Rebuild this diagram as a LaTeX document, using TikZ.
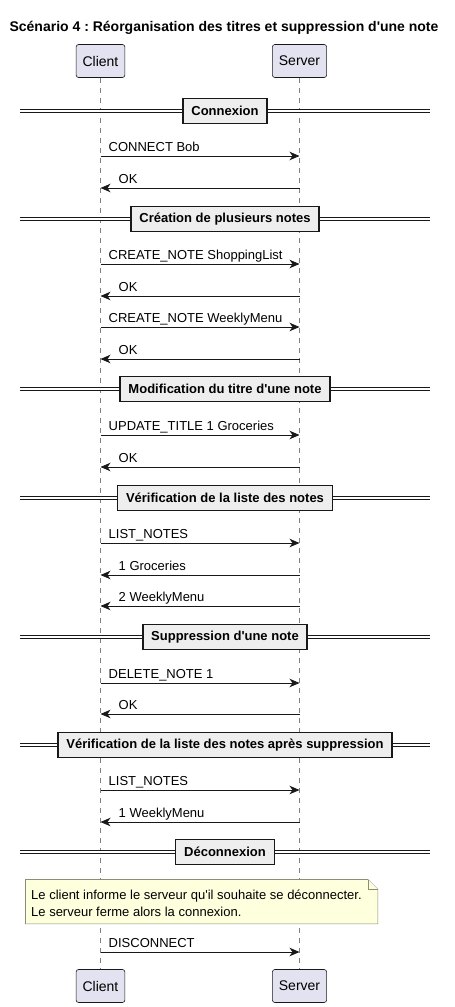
\documentclass[tikz,border=0pt]{standalone}
\usepackage{fontspec}
\setmainfont{Liberation Sans}
\usetikzlibrary{arrows.meta,calc}
\definecolor{ink}{HTML}{181818}
\definecolor{partfill}{HTML}{E2E2F0}
\definecolor{divfill}{HTML}{EEEEEE}
\definecolor{notefill}{HTML}{FEFFDD}
\definecolor{lifegray}{HTML}{808080}
\definecolor{noteline}{HTML}{8C8C78}
\newcommand{\apos}{\textquotesingle}
\frenchspacing
\begin{document}
\begin{tikzpicture}[x=1pt,y=-1pt,
  part/.style={draw=ink, fill=partfill, rounded corners=2.5pt, line width=0.6pt,
    minimum height=33pt, inner xsep=6.5pt, font=\fontsize{14}{16}\selectfont},
  life/.style={draw=lifegray, line width=0.5pt, dash pattern=on 5pt off 5pt},
  msg/.style={draw=ink, line width=0.8pt, -{Stealth[length=10pt,width=8.5pt,inset=3pt]}},
  lbl/.style={anchor=base west, inner sep=0pt, font=\fontsize{13}{15}\selectfont},
  divline/.style={draw=ink, double=white, double distance=2pt, line width=0.8pt},
  divbox/.style={draw=ink, fill=divfill, line width=1.6pt, minimum height=25pt,
    inner xsep=8.5pt, font=\bfseries\fontsize{13}{15}\selectfont},
  notebox/.style={fill=notefill, draw=noteline, line width=0.6pt},
]
\useasboundingbox (0,0) rectangle (455,1007);

\node[anchor=base, inner sep=0pt, font=\bfseries\fontsize{14}{16}\selectfont] (title) at (224,31)
  {Scénario 4 : Réorganisation des titres et suppression d\apos une note};

\node[part] (ct) at (100.5,61) {Client};
\node[part] (st) at (299.5,61) {Server};
\node[part] (cb) at (100.5,986) {Client};
\node[part] (sb) at (299.5,986) {Server};

\draw[life] (ct.south) -- (cb.north);
\draw[life] (st.south) -- (sb.north);

\foreach \y/\n/\t in {111/d1/Connexion,
  219/d2/Création de plusieurs notes,
  389/d3/Modification du titre d\apos une note,
  498/d4/Vérification de la liste des notes,
  637/d5/Suppression d\apos une note,
  745/d6/Vérification de la liste des notes après suppression,
  852/d7/Déconnexion}{
  \draw[divline] (20,\y) -- (430,\y);
  \node[divbox] (\n) at (225,\y) {\t};
}

% client -> server
\foreach \y/\n/\t in {156/m1/CONNECT Bob,
  264/m3/CREATE\_NOTE ShoppingList,
  327/m5/CREATE\_NOTE WeeklyMenu,
  435/m7/UPDATE\_TITLE 1 Groceries,
  543/m9/LIST\_NOTES,
  683/m12/DELETE\_NOTE 1,
  790/m14/LIST\_NOTES,
  952/m16/DISCONNECT}{
  \draw[msg] (ct.center |- 0,\y) -- (st.center |- 0,\y);
  \node[lbl] (\n) at (108.5,\y-4.5) {\t};
}

% server -> client
\foreach \y/\n/\t in {188/m2/OK,
  296/m4/OK,
  359/m6/OK,
  467/m8/OK,
  575/m10/1 Groceries,
  606/m11/2 WeeklyMenu,
  714/m13/OK,
  822/m15/1 WeeklyMenu}{
  \draw[msg] (st.center |- 0,\y) -- (ct.center |- 0,\y);
  \node[lbl] (\n) at (118.5,\y-4.5) {\t};
}

% note
\node[anchor=north west, inner sep=0pt, minimum width=352pt, minimum height=44pt] (note) at (25.5,879.5) {};
\fill[notebox] (note.north west) -- ($(note.north east)+(-10,0)$) -- ($(note.north east)+(0,10)$)
  -- (note.south east) -- (note.south west) -- cycle;
\draw[notebox] ($(note.north east)+(-10,0)$) -- ($(note.north east)+(-10,10)$) -- ($(note.north east)+(0,10)$);
\node[lbl] (n1) at (31,899.5) {Le client informe le serveur qu\apos il souhaite se déconnecter.};
\node[lbl] (n2) at (31,916.5) {Le serveur ferme alors la connexion.};
\end{tikzpicture}
\end{document}
